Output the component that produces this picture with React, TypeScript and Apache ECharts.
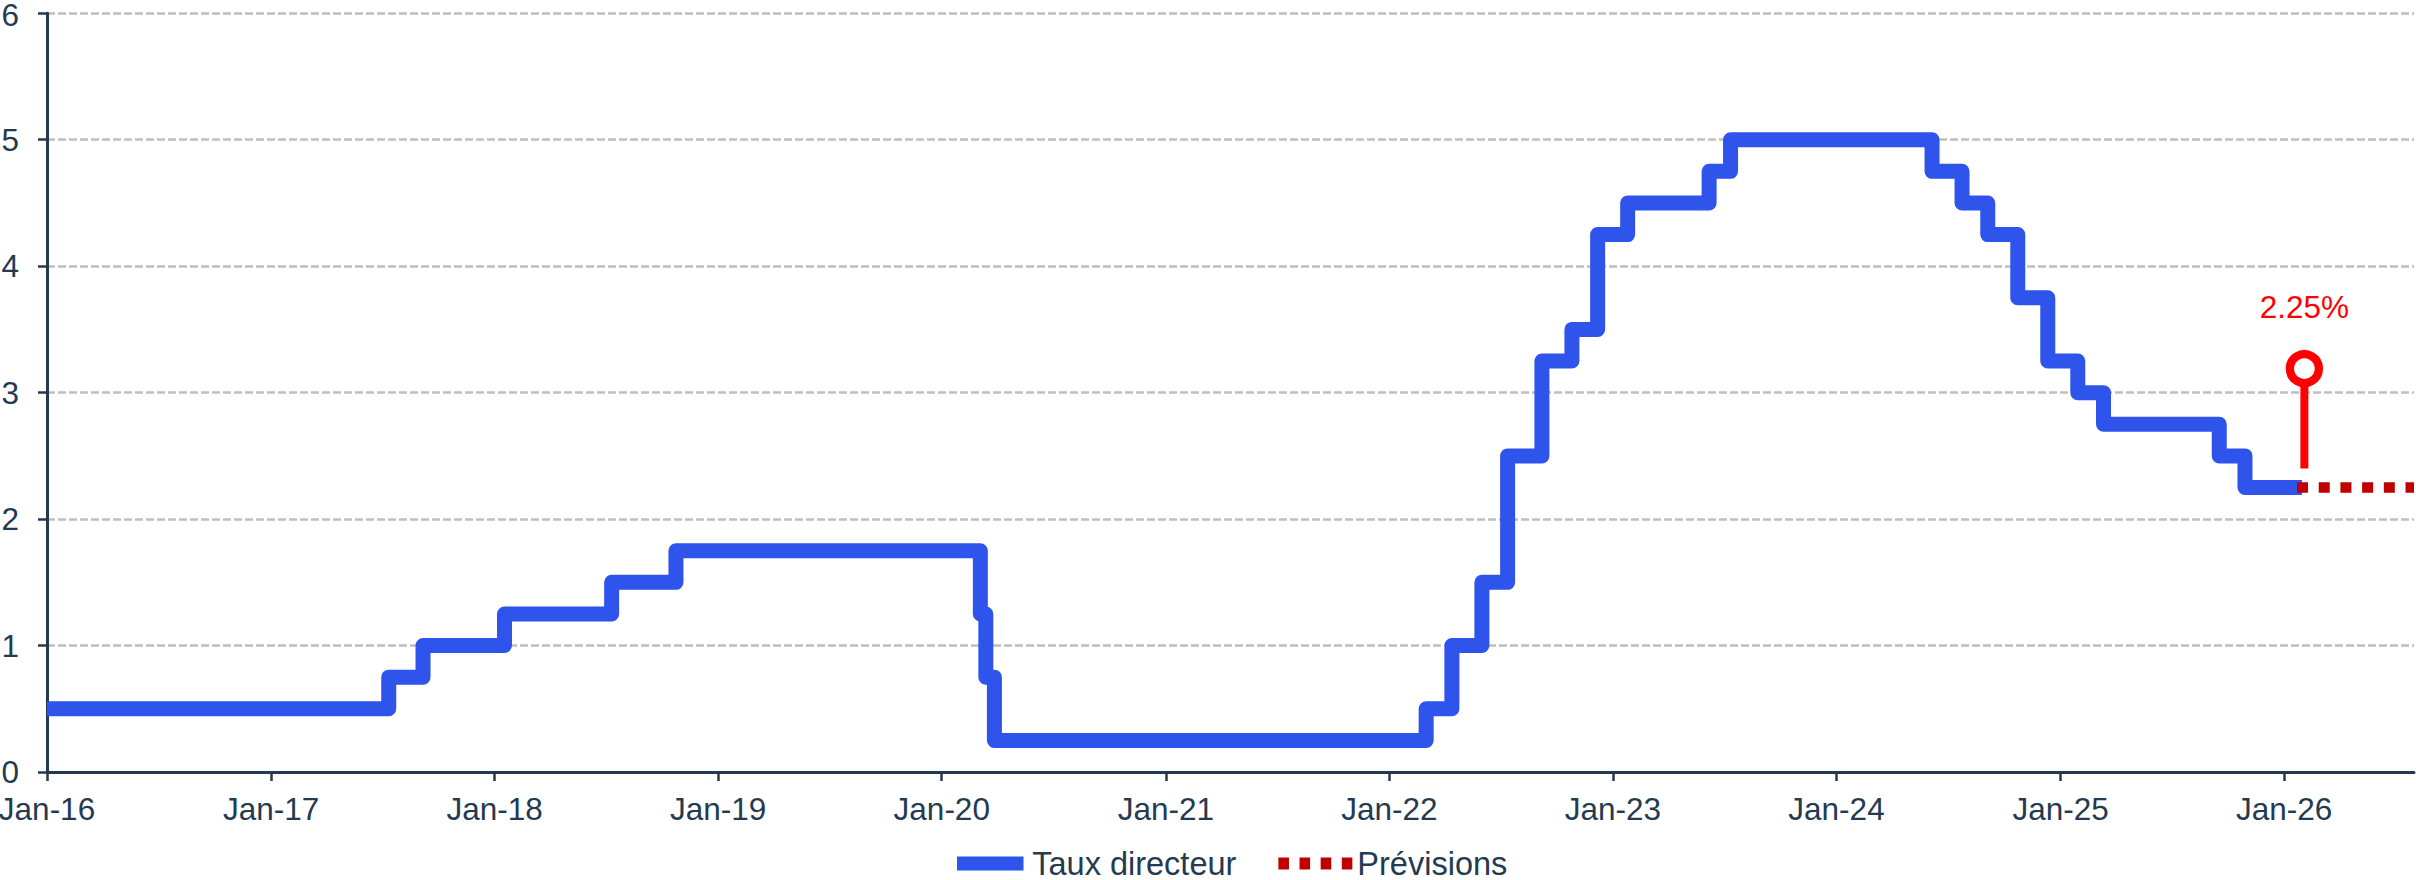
import React, { useEffect, useRef } from 'react';
import * as echarts from 'echarts';

// Taux directeur (policy rate) change dates and levels
const rateDates = [
  '2016-01-01', '2017-07-12', '2017-09-06', '2018-01-17', '2018-07-11', '2018-10-24',
  '2020-03-04', '2020-03-13', '2020-03-27', '2022-03-02', '2022-04-13', '2022-06-01',
  '2022-07-13', '2022-09-07', '2022-10-26', '2022-12-07', '2023-01-25', '2023-06-07',
  '2023-07-12', '2024-06-05', '2024-07-24', '2024-09-04', '2024-10-23', '2024-12-11',
  '2025-01-29', '2025-03-12', '2025-09-17', '2025-10-29', '2026-01-30',
];
const rateValues = [
  0.5, 0.75, 1.0, 1.25, 1.5, 1.75,
  1.25, 0.75, 0.25, 0.5, 1.0, 1.5,
  2.5, 3.25, 3.5, 4.25, 4.5, 4.75,
  5.0, 4.75, 4.5, 4.25, 3.75, 3.25,
  3.0, 2.75, 2.5, 2.25, 2.25,
];

// Prévisions (forecast)
const forecastDates = ['2026-01-22', '2026-08-01'];
const forecastValues = [2.25, 2.25];

// Lollipop marker
const markerDate = '2026-02-03';
const markerStem = [2.4, 3.19];

// Axis
const xMin = '2016-01-01';
const xMax = '2026-08-01';
const tickYears = [2016, 2017, 2018, 2019, 2020, 2021, 2022, 2023, 2024, 2025, 2026];
const yMax = 6;

const FONT = 'Arial, "Liberation Sans", sans-serif';
const NAVY = '#243A50';
const BLUE = '#2E54EC';
const DARKRED = '#C00000';
const RED = '#FF0000';

const BLUE_ICON = 'path://M0,0h66.5v14h-66.5z';
const DOTS_ICON =
  'path://M0,0h11v12.7h-11zM22,0h11v12.7h-11zM44,0h11v12.7h-11zM66,0h11v12.7h-11z';

const toTs = (s: string) => new Date(s + 'T00:00:00').getTime();

export default function App() {
  const ref = useRef<HTMLDivElement>(null);
  useEffect(() => {
    document.body.style.margin = '0';
    const chart = echarts.init(ref.current!, null, { renderer: 'svg' });
    const yearTicks = tickYears.map((y) => toTs(`${y}-01-01`));
    chart.setOption({
      animation: false,
      textStyle: { fontFamily: FONT },
      grid: {
        left: 47,
        right: 2,
        top: 13.3,
        bottom: 108,
        containLabel: false,
        outerBoundsMode: 'none',
      },
      xAxis: {
        type: 'value',
        min: toTs(xMin),
        max: toTs(xMax),
        axisLine: { show: true, onZero: false, lineStyle: { color: NAVY, width: 3 } },
        axisTick: {
          show: true,
          length: 9,
          lineStyle: { color: NAVY, width: 2.5 },
          customValues: yearTicks,
        },
        axisLabel: {
          customValues: yearTicks,
          formatter: (v: number) => 'Jan-' + String(new Date(v).getFullYear()).slice(2),
          color: NAVY,
          fontSize: 31.5,
          fontFamily: FONT,
          margin: 21,
          showMinLabel: true,
          showMaxLabel: true,
        },
        splitLine: { show: false },
      },
      yAxis: {
        type: 'value',
        min: 0,
        max: yMax,
        interval: 1,
        axisLine: { show: true, lineStyle: { color: NAVY, width: 3 } },
        axisTick: { show: true, length: 9, lineStyle: { color: NAVY, width: 2.5 } },
        axisLabel: {
          color: NAVY,
          fontSize: 31.5,
          lineHeight: 26,
          fontFamily: FONT,
          margin: 28,
          formatter: (v: number) => (v === yMax ? `{t|${v}}` : `${v}`),
          rich: {
            t: { color: NAVY, fontSize: 31.5, lineHeight: 22, fontFamily: FONT, padding: [4, 0, 0, 0] },
          },
        },
        splitLine: { show: true, lineStyle: { color: '#BFBFBF', width: 2.5, type: [8, 3] } },
      },
      legend: {
        data: [
          { name: 'Taux directeur', icon: BLUE_ICON },
          { name: 'Prévisions', icon: DOTS_ICON },
        ],
        left: 952,
        top: 842,
        itemWidth: 74,
        itemHeight: 14,
        itemGap: 42,
        textStyle: { color: NAVY, fontSize: 32.5, lineHeight: 28, fontFamily: FONT },
      },
      series: [
        {
          name: 'Taux directeur',
          type: 'line',
          step: 'end',
          symbol: 'none',
          data: rateDates.map((d, i) => [toTs(d), rateValues[i]]),
          lineStyle: { color: BLUE, width: 15, join: 'round', cap: 'butt' },
          itemStyle: { color: BLUE },
          z: 2,
        },
        {
          name: 'Prévisions',
          type: 'line',
          symbol: 'none',
          data: forecastDates.map((d, i) => [toTs(d), forecastValues[i]]),
          lineStyle: { color: DARKRED, width: 10.5, type: [11, 10.7], cap: 'butt' },
          itemStyle: { color: DARKRED },
          z: 3,
        },
        {
          name: 'marker',
          type: 'line',
          symbol: 'none',
          data: [
            { value: [toTs(markerDate), markerStem[0]], symbol: 'none' },
            {
              value: [toTs(markerDate), markerStem[1]],
              symbol: 'circle',
              symbolSize: 29,
              itemStyle: { color: '#FFFFFF', borderColor: RED, borderWidth: 8.3 },
              label: {
                show: true,
                position: 'top',
                distance: 27,
                formatter: `${forecastValues[0].toFixed(2)}%`,
                color: RED,
                fontSize: 31.5,
                fontFamily: FONT,
              },
            },
          ],
          lineStyle: { color: RED, width: 8, cap: 'butt' },
          itemStyle: { color: RED },
          z: 4,
        },
      ],
    });
    return () => chart.dispose();
  }, []);
  return <div ref={ref} style={{ width: 2416, height: 880 }} />;
}
